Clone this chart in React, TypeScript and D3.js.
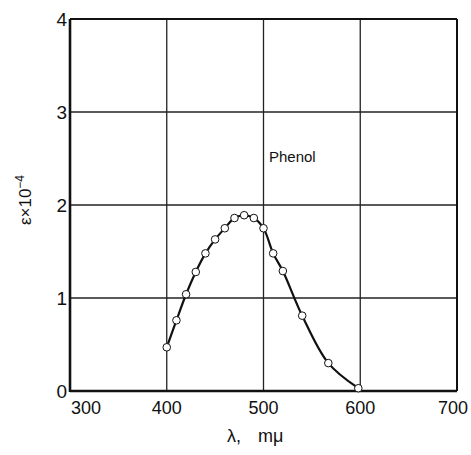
import React from "react";
import * as d3 from "d3";

const wavelengths = [400, 410, 420, 430, 440, 450, 460, 470, 480, 490, 500, 510, 520, 540, 567, 598];
const epsilon = [0.47, 0.76, 1.04, 1.28, 1.48, 1.63, 1.75, 1.86, 1.89, 1.86, 1.75, 1.48, 1.29, 0.81, 0.30, 0.03];
const xTicks = [300, 400, 500, 600, 700];
const yTicks = [0, 1, 2, 3, 4];
const seriesLabel = "Phenol";

const W = 471, H = 455;
const left = 70, right = 457, top = 19, bottom = 391;

export default function App() {
  const x = d3.scaleLinear().domain([300, 700]).range([left, right]);
  const y = d3.scaleLinear().domain([0, 4]).range([bottom, top]);
  const pts = wavelengths.map((w, i) => [w, epsilon[i]] as [number, number]);
  const line = d3.line<[number, number]>().x(d => x(d[0])).y(d => y(d[1])).curve(d3.curveCatmullRom.alpha(0.5));
  const font = "'Liberation Sans', Arial, sans-serif";
  const tickShift = (i: number) => (i === 0 ? 16 : i === xTicks.length - 1 ? -4 : 0);
  return (
    <svg width={W} height={H} style={{ position: "absolute", left: 0, top: 0, background: "#fff" }} fontFamily={font}>
      <rect x={0} y={0} width={W} height={H} fill="#fff" />
      {xTicks.slice(1, -1).map(t => (
        <line key={"gx" + t} x1={x(t)} x2={x(t)} y1={top} y2={bottom} stroke="#222" strokeWidth={1.3} />
      ))}
      {yTicks.slice(1, -1).map(t => (
        <line key={"gy" + t} x1={left} x2={right} y1={y(t)} y2={y(t)} stroke="#222" strokeWidth={1.3} />
      ))}
      <line x1={left} x2={right} y1={top} y2={top} stroke="#111" strokeWidth={2} />
      <line x1={right} x2={right} y1={top} y2={bottom} stroke="#111" strokeWidth={2} />
      <line x1={left} x2={left} y1={top} y2={bottom + 1} stroke="#111" strokeWidth={2.6} />
      <line x1={left} x2={right} y1={bottom} y2={bottom} stroke="#111" strokeWidth={2.6} />
      <path d={line(pts) || ""} fill="none" stroke="#111" strokeWidth={2.2} />
      {pts.map((p, i) => (
        <circle key={i} cx={x(p[0])} cy={y(p[1])} r={3.8} fill="#fff" stroke="#111" strokeWidth={1} />
      ))}
      {xTicks.map((t, i) => (
        <text key={"tx" + t} x={x(t) + tickShift(i)} y={414} textAnchor="middle" fontSize={18} fill="#111">{t}</text>
      ))}
      {yTicks.map(t => (
        <text key={"ty" + t} x={67} y={y(t) + 7} textAnchor="end" fontSize={19} fill="#111">{t}</text>
      ))}
      <text x={269} y={162} fontSize={15} fill="#111">{seriesLabel}</text>
      <text transform="translate(31,200) rotate(-90)" textAnchor="middle" fontSize={17} fill="#111">
        ε×10<tspan dy={-7} fontSize={12}>−4</tspan>
      </text>
      <text x={227} y={442} fontSize={18} fill="#111">λ,</text>
      <text x={258} y={442} fontSize={18} fill="#111">mμ</text>
    </svg>
  );
}
